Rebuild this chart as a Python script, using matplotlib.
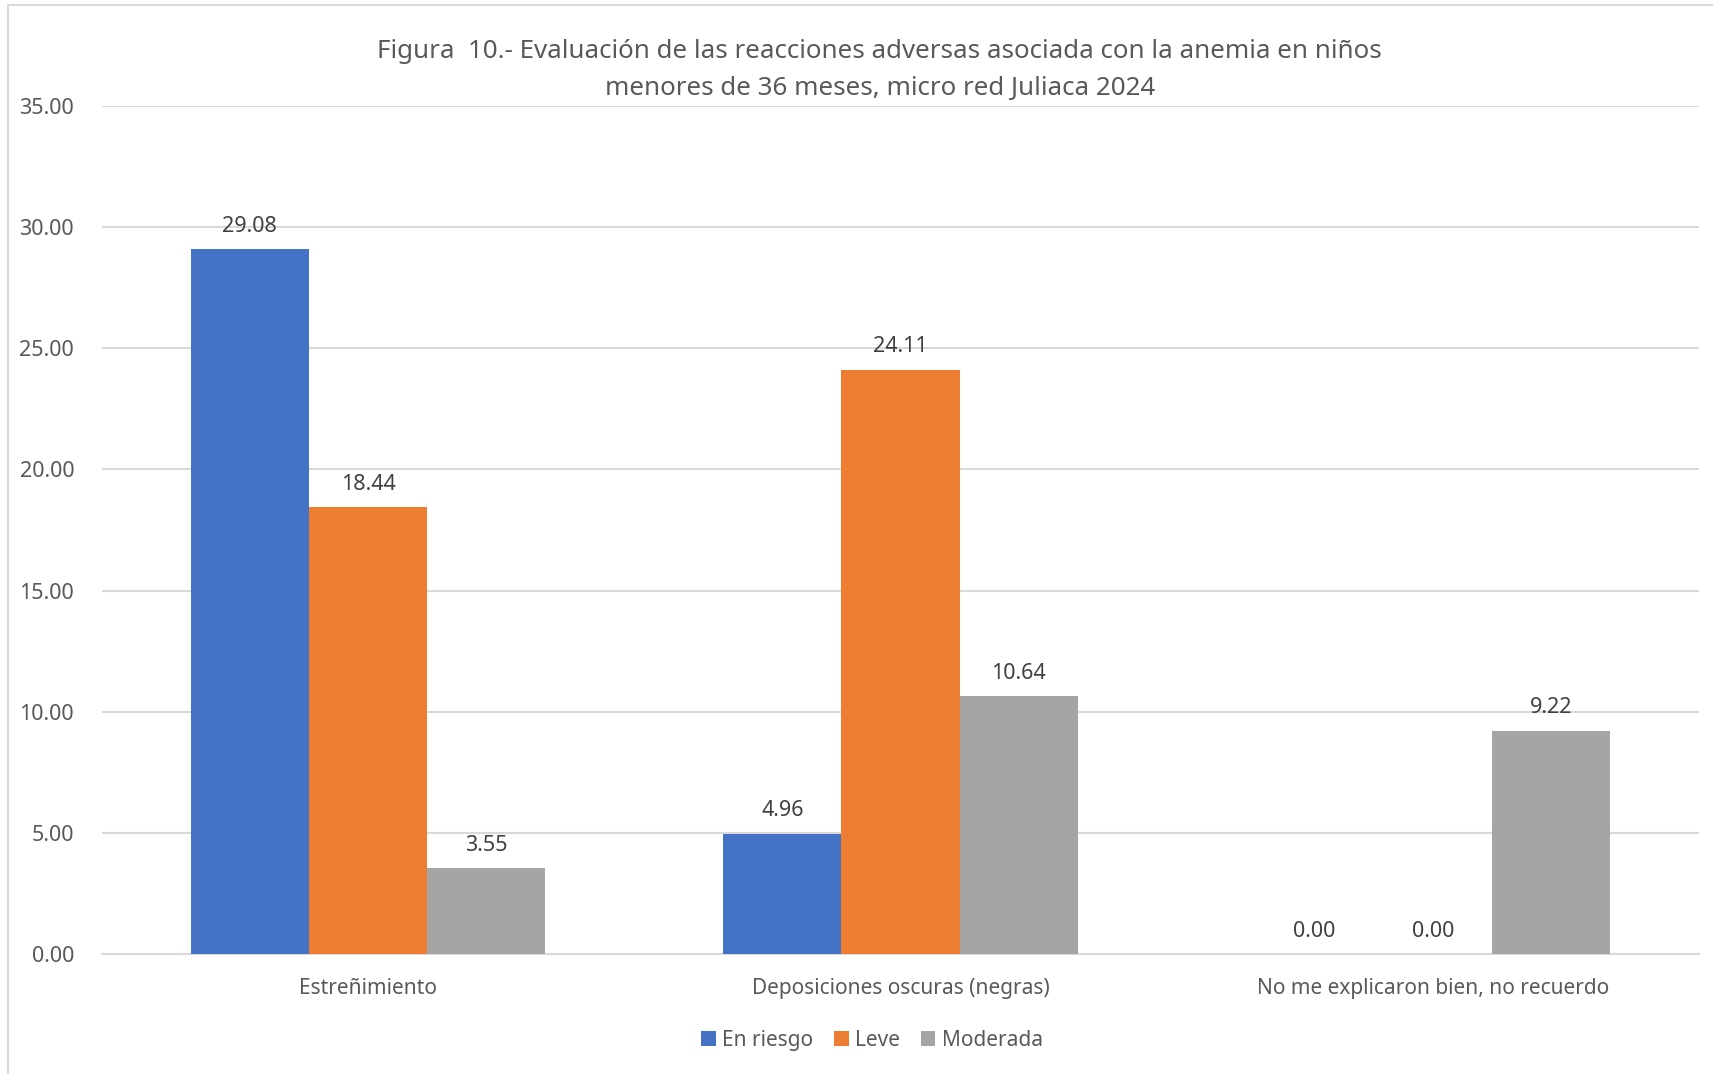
import matplotlib.pyplot as plt
import numpy as np
from matplotlib.patches import Rectangle

categories = ['Estreñimiento', 'Deposiciones oscuras (negras)', 'No me explicaron bien, no recuerdo']
series_names = ['En riesgo', 'Leve', 'Moderada']
en_riesgo = [29.08, 4.96, 0.00]
leve = [18.44, 24.11, 0.00]
moderada = [3.55, 10.64, 9.22]
yticks = [0, 5, 10, 15, 20, 25, 30, 35]

COLORS = ['#4472C4', '#ED7D31', '#A5A5A5']
TEXT_GRAY = '#595959'
LABEL_GRAY = '#404040'
GRID_GRAY = '#D9D9D9'

plt.rcParams['font.family'] = ['Noto Sans', 'DejaVu Sans']

fig = plt.figure(figsize=(17.13, 10.74), dpi=100)
ax = fig.add_axes([0.0595, 0.1117, 0.9323, 0.7896])

# chart frame
fig.patches.append(Rectangle((8 / 1713, -0.05), 1.1, 1 - 5 / 1074 + 0.05,
                             transform=fig.transFigure, fill=False,
                             edgecolor=GRID_GRAY, linewidth=1.5))

x = np.arange(len(categories))
width = 0.222
for i, (name, values) in enumerate(zip(series_names, [en_riesgo, leve, moderada])):
    pos = x + (i - 1) * width
    ax.bar(pos, values, width, color=COLORS[i], label=name, zorder=3)
    for p, v in zip(pos, values):
        ax.annotate(f'{v:.2f}', (p, v), xytext=(0, 16.5), textcoords='offset points',
                    ha='center', va='center', fontsize=15.5, color=LABEL_GRAY)

ax.set_xlim(-0.5, 2.5)
ax.set_ylim(0, 35)
ax.set_yticks(yticks)
ax.set_yticklabels([f'{t:.2f}' for t in yticks], fontsize=15.5, color=TEXT_GRAY)
ax.set_xticks(x)
ax.set_xticklabels(categories, fontsize=15, color=TEXT_GRAY)
ax.tick_params(axis='both', length=0)
ax.tick_params(axis='y', pad=20)
ax.tick_params(axis='x', pad=17)
ax.yaxis.grid(True, color=GRID_GRAY, linewidth=1.5, zorder=0)
for side in ['top', 'right', 'left']:
    ax.spines[side].set_visible(False)
ax.spines['bottom'].set_color(GRID_GRAY)
ax.spines['bottom'].set_linewidth(1.5)

fig.text(0.5135, 0.9525, 'Figura  10.- Evaluación de las reacciones adversas asociada con la anemia en niños',
         ha='center', va='center', fontsize=18.7, color=TEXT_GRAY, fontweight='medium')
fig.text(0.5135, 0.9180, 'menores de 36 meses, micro red Juliaca 2024',
         ha='center', va='center', fontsize=18.7, color=TEXT_GRAY, fontweight='medium')

fig.legend(loc='center', bbox_to_anchor=(0.509, 0.0315), ncol=3, frameon=False,
           fontsize=15, labelcolor=TEXT_GRAY, handlelength=0.7, handleheight=0.7,
           handletextpad=0.3, columnspacing=1.0)

fig.savefig('out.png', dpi=100)
